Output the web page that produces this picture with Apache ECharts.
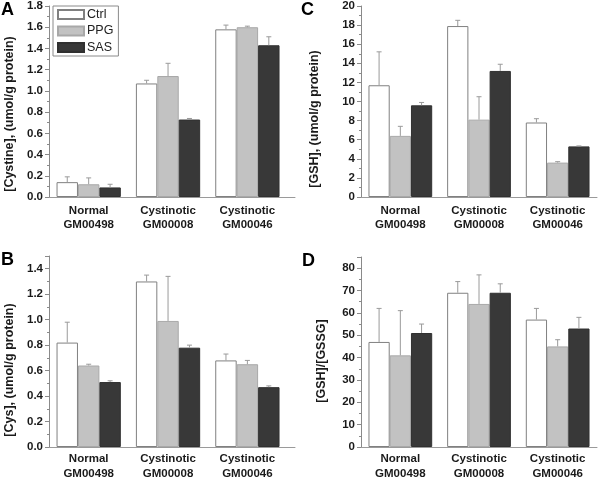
<!DOCTYPE html>
<html>
<head>
<meta charset="utf-8">
<script src="https://cdn.jsdelivr.net/npm/echarts@6/dist/echarts.min.js"></script>
<style>html,body{margin:0;padding:0;background:#fff;}#c{width:600px;height:481px;}</style>
</head>
<body>
<div id="c"></div>
<script>
const categories = ['Normal\nGM00498', 'Cystinotic\nGM00008', 'Cystinotic\nGM00046'];
const seriesNames = ['Ctrl', 'PPG', 'SAS'];

// Panel A: [Cystine]
const aCtrl = [0.14, 1.07, 1.58];
const aPPG = [0.12, 1.14, 1.60];
const aSAS = [0.09, 0.73, 1.43];
const aCtrlTop = [0.19, 1.10, 1.62];
const aPPGTop = [0.18, 1.26, 1.61];
const aSASTop = [0.12, 0.74, 1.51];

// Panel B: [Cys]
const bCtrl = [0.82, 1.30, 0.68];
const bPPG = [0.64, 0.99, 0.65];
const bSAS = [0.51, 0.78, 0.47];
const bCtrlTop = [0.98, 1.35, 0.73];
const bPPGTop = [0.65, 1.34, 0.68];
const bSASTop = [0.52, 0.80, 0.48];

// Panel C: [GSH]
const cCtrl = [11.7, 17.9, 7.8];
const cPPG = [6.4, 8.1, 3.6];
const cSAS = [9.6, 13.2, 5.3];
const cCtrlTop = [15.2, 18.5, 8.2];
const cPPGTop = [7.4, 10.5, 3.7];
const cSASTop = [9.9, 13.9, 5.35];

// Panel D: [GSH]/[GSSG]
const dCtrl = [47, 69, 57];
const dPPG = [41, 64, 45];
const dSAS = [51, 69, 53];
const dCtrlTop = [62, 74, 62];
const dPPGTop = [61, 77, 48];
const dSASTop = [55, 73, 58];

const yTicksA = {min: 0, max: 1.8, interval: 0.2};
const yTicksB = {min: 0, max: 1.5, interval: 0.2};
const yTicksC = {min: 0, max: 20, interval: 2};
const yTicksD = {min: 0, max: 85, interval: 10};

const barStyles = [
  {color: '#ffffff', borderColor: '#808080', borderWidth: 1},
  {color: '#c2c2c2', borderColor: '#a8a8a8', borderWidth: 1},
  {color: '#383838', borderColor: '#303030', borderWidth: 1}
];

const panels = [
  {means: [aCtrl, aPPG, aSAS], tops: [aCtrlTop, aPPGTop, aSASTop], y: yTicksA, dec: 1,
   grid: {left: 49, top: 6, width: 246, height: 191}, xmax: 3.1, labelMargin: 6.5},
  {means: [cCtrl, cPPG, cSAS], tops: [cCtrlTop, cPPGTop, cSASTop], y: yTicksC, dec: 0,
   grid: {left: 361, top: 6, width: 238, height: 191}, xmax: 3.0, labelMargin: 6.5},
  {means: [bCtrl, bPPG, bSAS], tops: [bCtrlTop, bPPGTop, bSASTop], y: yTicksB, dec: 1,
   grid: {left: 49, top: 256, width: 246, height: 193}, xmax: 3.1, labelMargin: 5},
  {means: [dCtrl, dPPG, dSAS], tops: [dCtrlTop, dPPGTop, dSASTop], y: yTicksD, dec: 0,
   grid: {left: 361, top: 257, width: 238, height: 191}, xmax: 3.0, labelMargin: 5}
];

const FONT = 'Liberation Sans, Arial, sans-serif';
const barCategoryGap = 0.19;
const barUnit = (1 - barCategoryGap) / 3;

const grids = [], xAxes = [], yAxes = [], series = [];
panels.forEach((p, g) => {
  grids.push(p.grid);
  xAxes.push({
    type: 'value', gridIndex: g, min: 0, max: p.xmax, interval: 0.5,
    axisLine: {show: true, lineStyle: {color: '#9a9a9a', width: 1}},
    axisTick: {show: false}, splitLine: {show: false},
    axisLabel: {
      showMaxLabel: true, showMinLabel: true,
      margin: p.labelMargin, fontFamily: FONT, fontWeight: 'bold', fontSize: 11.5,
      lineHeight: 14.5, color: '#1a1a1a',
      formatter: function (v) {
        for (let i = 0; i < categories.length; i++) {
          if (Math.abs(v - (i + 0.5)) < 1e-6) return categories[i];
        }
        return '';
      }
    }
  });
  yAxes.push({
    type: 'value', gridIndex: g, min: p.y.min, max: p.y.max, interval: p.y.interval,
    axisLine: {show: true, lineStyle: {color: '#8a8a8a', width: 1}},
    axisTick: {show: true, inside: false, length: 4, lineStyle: {color: '#8a8a8a'}},
    minorTick: {show: true, splitNumber: 2, length: 2, lineStyle: {color: '#8a8a8a'}},
    splitLine: {show: false}, minorSplitLine: {show: false},
    axisLabel: {
      margin: 6, fontFamily: FONT, fontWeight: 'bold', fontSize: 11.5, color: '#1a1a1a',
      showMaxLabel: Math.abs((p.y.max / p.y.interval) - Math.round(p.y.max / p.y.interval)) < 1e-9,
      formatter: function (v) { return v.toFixed(p.dec); }
    }
  });
  p.means.forEach((vals, k) => {
    series.push({
      type: 'bar', name: seriesNames[k], xAxisIndex: g, yAxisIndex: g,
      barGap: '0%', barCategoryGap: (barCategoryGap * 100) + '%',
      itemStyle: barStyles[k],
      data: vals.map((v, i) => [i + 0.5, v]),
      z: 2
    });
  });
  p.means.forEach((vals, k) => {
    series.push({
      type: 'custom', name: 'err' + g + '_' + k, xAxisIndex: g, yAxisIndex: g,
      encode: {x: 0, y: 2}, z: 3,
      data: vals.map((v, i) => [i + 0.5 + (k - 1) * barUnit, v, p.tops[k][i]]),
      renderItem: function (params, api) {
        const x = api.value(0), v = api.value(1), t = api.value(2);
        const p0 = api.coord([x, v]);
        const p1 = api.coord([x, t]);
        const st = {stroke: '#9a9a9a', lineWidth: 1};
        return {
          type: 'group', children: [
            {type: 'line', shape: {x1: p0[0], y1: p0[1], x2: p1[0], y2: p1[1]}, style: st},
            {type: 'line', shape: {x1: p1[0] - 2.5, y1: p1[1], x2: p1[0] + 2.5, y2: p1[1]}, style: st}
          ]
        };
      }
    });
  });
});

const titleStyle = {fontFamily: FONT, fontWeight: 'bold', fontSize: 12.5, fill: '#1a1a1a', textAlign: 'center', textVerticalAlign: 'middle'};
const letterStyle = {fontFamily: FONT, fontWeight: 'bold', fontSize: 18, fill: '#000', textAlign: 'left', textVerticalAlign: 'top'};

const chart = echarts.init(document.getElementById('c'), null, {renderer: 'canvas'});
chart.setOption({
  animation: false,
  backgroundColor: '#ffffff',
  grid: grids,
  xAxis: xAxes,
  yAxis: yAxes,
  legend: {
    data: seriesNames, orient: 'vertical', left: 53, top: 6,
    itemWidth: 26, itemHeight: 9, itemGap: 3.5, padding: [2, 5, 2, 4],
    backgroundColor: '#ffffff', borderColor: '#8a8a8a', borderWidth: 1,
    selectedMode: false, icon: 'rect',
    textStyle: {fontFamily: FONT, fontSize: 12.5, color: '#222', lineHeight: 12, padding: [0, 0, 0, -2]}
  },
  graphic: [
    {type: 'text', left: 1, top: 1, style: Object.assign({text: 'A'}, letterStyle)},
    {type: 'text', left: 301, top: 1, style: Object.assign({text: 'C'}, letterStyle)},
    {type: 'text', left: 1, top: 251, style: Object.assign({text: 'B'}, letterStyle)},
    {type: 'text', left: 302, top: 252, style: Object.assign({text: 'D'}, letterStyle)},
    {type: 'text', x: 10, y: 114, rotation: Math.PI / 2, style: Object.assign({text: '[Cystine], (umol/g protein)'}, titleStyle)},
    {type: 'text', x: 315, y: 119, rotation: Math.PI / 2, style: Object.assign({text: '[GSH], (umol/g protein)'}, titleStyle)},
    {type: 'text', x: 10, y: 370, rotation: Math.PI / 2, style: Object.assign({text: '[Cys], (umol/g protein)'}, titleStyle)},
    {type: 'text', x: 322, y: 361, rotation: Math.PI / 2, style: Object.assign({text: '[GSH]/[GSSG]'}, titleStyle)}
  ],
  series: series
});
</script>
</body>
</html>
